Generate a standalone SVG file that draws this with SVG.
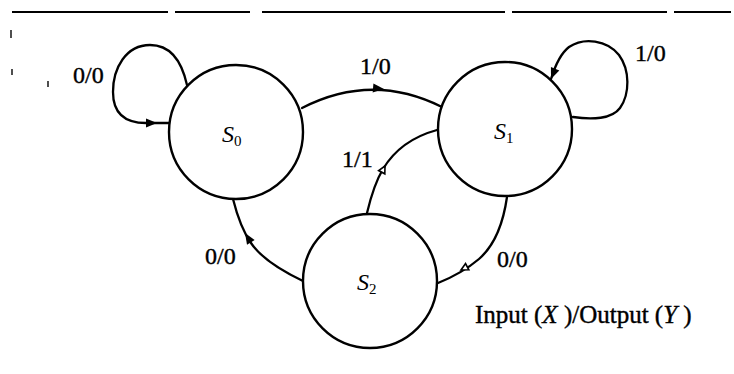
<svg xmlns="http://www.w3.org/2000/svg" xmlns:xlink="http://www.w3.org/1999/xlink" width="734" height="374" viewBox="0 0 734 374">
  <style>
    .state { fill: #fff; stroke: #000; stroke-width: 2.4; }
    .edge { fill: none; stroke: #000; stroke-width: 2.3; stroke-linecap: round; }
    .lbl { font-family: "Liberation Serif", "Times New Roman", serif; font-size: 24px; fill: #000; stroke: #000; stroke-width: 0.4; }
    .name { font-family: "Liberation Serif", "Times New Roman", serif; font-style: italic; font-size: 24px; fill: #000; }
    .sub { font-style: normal; font-size: 15px; }
    .rule { stroke: #000; stroke-width: 2; }
    .speck { stroke: #222; stroke-width: 1.6; }
  </style>
  <defs>
    <!-- arrowheads: tip at the origin, pointing along +x -->
    <path id="headSolid" d="M0,0 L-11,-4.5 L-11,4.5 Z" fill="#000"/>
    <path id="headOpen" d="M0,0 L-7,-3.5 L-7,3.5 Z" fill="#fff" stroke="#000" stroke-width="1.6"/>
  </defs>

  <!-- page rule and stray marks along the left margin -->
  <g id="page">
    <line class="rule" x1="12" y1="12" x2="168" y2="12"/>
    <line class="rule" x1="175" y1="12" x2="250" y2="12"/>
    <line class="rule" x1="262" y1="12" x2="505" y2="12"/>
    <line class="rule" x1="512" y1="12" x2="667" y2="12"/>
    <line class="rule" x1="674" y1="12" x2="731" y2="12"/>
    <line class="speck" x1="11" y1="30" x2="11" y2="38"/>
    <line class="speck" x1="12" y1="69" x2="12" y2="75"/>
    <line class="speck" x1="48" y1="81" x2="48" y2="87"/>
  </g>

  <!-- transitions -->
  <g id="connectors">
    <g id="e-s0-s0">
      <path class="edge" d="M187,85 C181,58 168,45 150,45 C126,45 113,68 113,92 C113,113 124,123 146,123 L169,123"/>
      <use xlink:href="#headSolid" transform="translate(157,123)"/>
    </g>
    <g id="e-s0-s1">
      <path class="edge" d="M302,108 Q372,72 442,107"/>
      <use xlink:href="#headSolid" transform="translate(384,89) rotate(5)"/>
    </g>
    <g id="e-s1-s1">
      <path class="edge" d="M573,117 C592,120 612,119 620,108 C630,94 630,70 619,55 C607,40 584,37 569,47 C560,54 555,66 551,79"/>
      <use xlink:href="#headSolid" transform="translate(551,79) rotate(112)"/>
    </g>
    <g id="e-s2-s1">
      <path class="edge" d="M367,213 C372,192 377,179 383,169 C395,149 415,136 437,130"/>
      <use xlink:href="#headOpen" transform="translate(385,166) rotate(-62)"/>
    </g>
    <g id="e-s1-s2">
      <path class="edge" d="M507,197 C503,225 495,245 479,259 C466,270 453,277 438,283"/>
      <use xlink:href="#headOpen" transform="translate(461,270) rotate(152)"/>
    </g>
    <g id="e-s2-s0">
      <path class="edge" d="M303,281 C280,270 261,258 251,243 C242,230 237,215 233,199"/>
      <use xlink:href="#headSolid" transform="translate(245,233) rotate(-122)"/>
    </g>
  </g>

  <!-- states -->
  <g id="S0">
    <circle class="state" cx="236" cy="132" r="67"/>
    <text class="name" x="222" y="142">S<tspan class="sub" dy="4">0</tspan></text>
  </g>
  <g id="S1">
    <circle class="state" cx="505" cy="129" r="67"/>
    <text class="name" x="494" y="139">S<tspan class="sub" dy="4">1</tspan></text>
  </g>
  <g id="S2">
    <circle class="state" cx="370" cy="281" r="67"/>
    <text class="name" x="357" y="290">S<tspan class="sub" dy="4">2</tspan></text>
  </g>

  <!-- transition labels -->
  <g id="labels">
    <text class="lbl" x="73" y="83">0/0</text>
    <text class="lbl" x="360" y="74">1/0</text>
    <text class="lbl" x="635" y="61">1/0</text>
    <text class="lbl" x="342" y="167">1/1</text>
    <text class="lbl" x="497" y="267">0/0</text>
    <text class="lbl" x="205" y="264">0/0</text>
    <text class="lbl" x="475" y="323" style="font-size:25px">Input (<tspan font-style="italic">X</tspan> )/Output (<tspan font-style="italic">Y</tspan> )</text>
  </g>
</svg>
